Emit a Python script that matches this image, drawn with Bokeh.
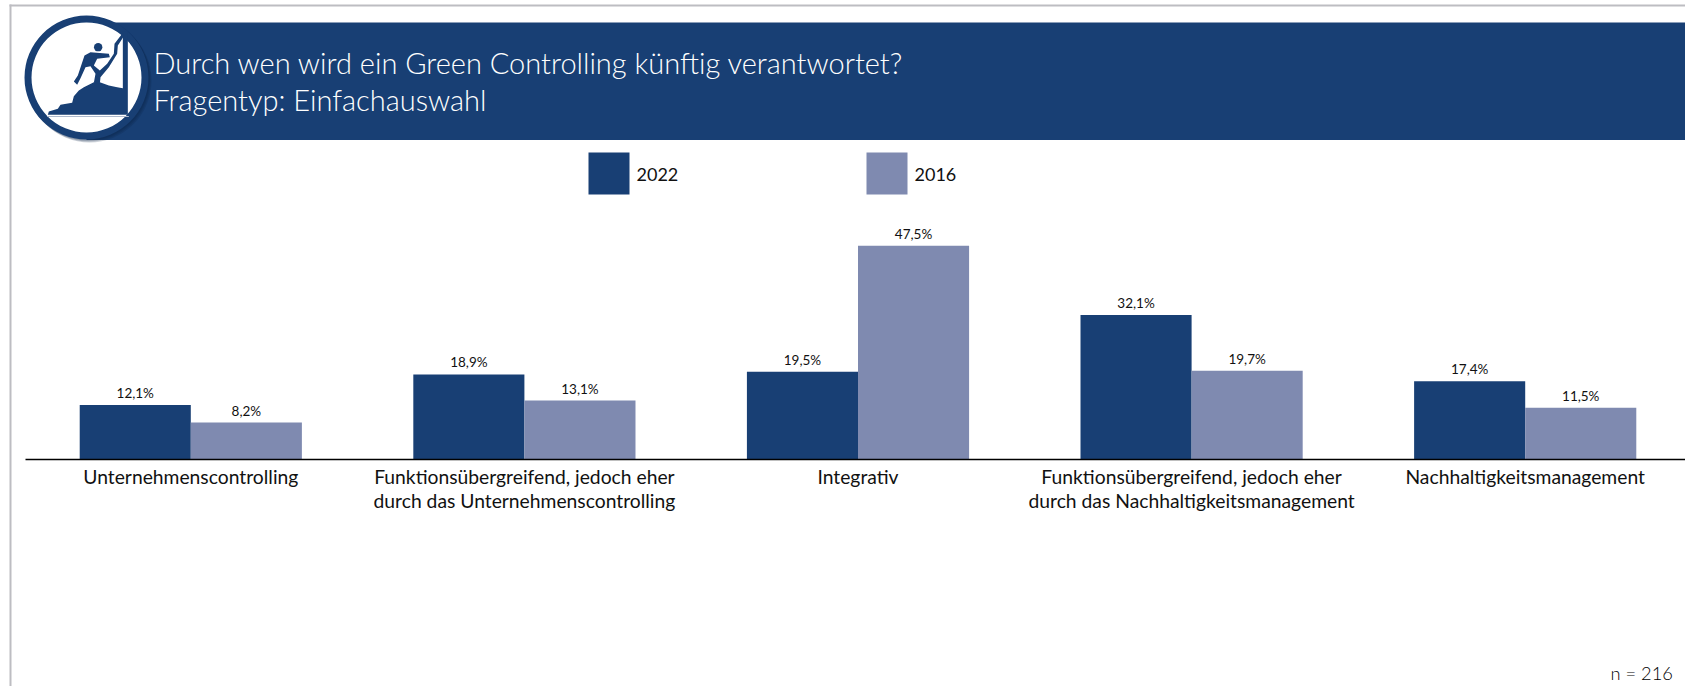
from bokeh.embed import file_html
from bokeh.resources import INLINE
from bokeh.plotting import figure
from bokeh.models import Range1d, FixedTicker, LinearAxis
from bokeh.core.properties import value

# Survey answers, in percent
first_lines = [
    "Unternehmenscontrolling",
    "Funktionsübergreifend, jedoch eher",
    "Integrativ",
    "Funktionsübergreifend, jedoch eher",
    "Nachhaltigkeitsmanagement",
]
second_lines = ["", "durch das Unternehmenscontrolling", "", "durch das Nachhaltigkeitsmanagement", ""]
values_2022 = [12.1, 18.9, 19.5, 32.1, 17.4]
values_2016 = [8.2, 13.1, 47.5, 19.7, 11.5]
series_names = ["2022", "2016"]
title_lines = ["Durch wen wird ein Green Controlling künftig verantwortet?", "Fragentyp: Einfachauswahl"]
sample_note = "n = 216"

NAVY = "#183F74"
SLATE = "#7F8AB0"
FRAME = "#BDBDC2"
INK = "#111111"
FONT = "Lato"
LIGHT_FONT = "Lato Light, Lato"
W, H, BASE = 1685, 686, 459
PX_PER_PCT = 4.5
SLOT = 333.6
BAR = 0.333
ORIGIN = 23.5
AXIS_START = 24.5


def to_label(v):
    return f"{v:.1f}".replace(".", ",") + "%"


x0 = -0.5 - ORIGIN / SLOT
p = figure(width=W, height=H, output_backend="svg", toolbar_location=None,
           x_range=Range1d(x0, x0 + W / SLOT),
           y_range=Range1d(-(H - BASE) / PX_PER_PCT, BASE / PX_PER_PCT),
           x_axis_type=None, y_axis_type=None,
           min_border_left=0, min_border_right=0, min_border_top=0, min_border_bottom=0)
p.outline_line_color = None
p.grid.visible = False
p.background_fill_color = "white"

# Pixel-based ranges for the page furniture (banner, badge, legend)
p.extra_x_ranges["px"] = Range1d(0, W)
p.extra_y_ranges["px"] = Range1d(H, 0)
px = dict(x_range_name="px", y_range_name="px")

# Frame lines of the slide
p.quad(left=[9], right=[W], top=[4], bottom=[6], fill_color=FRAME, line_color=None, **px)
p.quad(left=[9], right=[11], top=[4], bottom=[H], fill_color=FRAME, line_color=None, **px)

# Banner with the round badge on its left end
p.quad(left=[86], right=[W], top=[22], bottom=[139.5], fill_color=NAVY, line_color=None, **px)
p.circle(x=[89, 88, 87], y=[80, 79, 78], radius=[62, 62, 62], fill_color="#0B2344", fill_alpha=0.2, line_color=None, **px)
p.circle(x=[86], y=[77], radius=[62], fill_color=NAVY, line_color=None, **px)
p.circle(x=[86], y=[77], radius=[55], fill_color="white", line_color=None, **px)

# Climber icon, outlined in a 300-unit box that sits at (40, 25) and is scaled by a third
def icon_x(points):
    return [40 + v / 3 for v in points]


def icon_y(points):
    return [25 + v / 3 for v in points]


rock_x = [22, 25, 52, 60, 95, 100, 115, 130, 160, 178, 205, 230, 247, 247, 262, 262]
rock_y = [268, 258, 250, 238, 232, 212, 195, 185, 170, 170, 180, 185, 188, 18, 18, 268]
p.patch(icon_x(rock_x), icon_y(rock_y), fill_color=NAVY, line_color=None, **px)
climber_x = [132, 150, 205, 208, 170, 160, 178, 200, 220, 222, 245, 250, 232, 230, 205, 180, 178, 160, 165, 150, 135, 120, 110, 100, 112, 122]
climber_y = [90, 80, 85, 95, 100, 120, 135, 115, 85, 55, 25, 32, 60, 85, 125, 155, 175, 172, 145, 122, 125, 158, 178, 168, 150, 120]
p.patch(icon_x(climber_x), icon_y(climber_y), fill_color=NAVY, line_color=None, **px)
p.circle(x=icon_x([173]), y=icon_y([65]), radius=[4.2], fill_color=NAVY, line_color=None, **px)
p.line(icon_x([20, 265]), icon_y([273, 273]), line_color="#AEB9CC", line_width=1, **px)

for text, y in zip(title_lines, [62, 98.5]):
    p.text(x=[153], y=[y], text=[text], text_font=value(LIGHT_FONT), text_font_size="29px",
           text_color="white", text_baseline="middle", **px)

# Legend
for name, left, colour in zip(series_names, [588, 866], [NAVY, SLATE]):
    p.quad(left=[left], right=[left + 41], top=[152], bottom=[194], fill_color=colour, line_color=None, **px)
    p.text(x=[left + 48], y=[174], text=[name], text_font=value(FONT), text_font_size="18px",
           text_color=INK, text_baseline="middle", **px)

# Bars and their value labels
xs = list(range(len(first_lines)))
for offset, values, colour in [(-BAR / 2, values_2022, NAVY), (BAR / 2, values_2016, SLATE)]:
    centres = [i + offset for i in xs]
    p.vbar(x=centres, top=values, width=BAR, bottom=0, fill_color=colour, line_color=None)
    p.text(x=centres, y=values, text=[to_label(v) for v in values], y_offset=-4,
           text_align="center", text_baseline="bottom", text_font=value(FONT),
           text_font_size="13.5px", text_color=INK)

# Category axis on the zero line; the wrapped labels take a second, line-less axis
axis = LinearAxis(ticker=FixedTicker(ticks=xs), fixed_location=0,
                  major_label_overrides=dict(enumerate(first_lines)))
axis.axis_line_color = "black"
axis.axis_line_width = 1.5
axis.major_tick_line_color = None
axis.minor_tick_line_color = None
axis.major_label_text_font = FONT
axis.major_label_text_font_size = "19.3px"
axis.major_label_text_color = INK
axis.major_label_standoff = -1
axis.bounds = (x0 + AXIS_START / SLOT, x0 + W / SLOT)
p.add_layout(axis, "below")

axis2 = LinearAxis(ticker=FixedTicker(ticks=xs), fixed_location=0,
                   major_label_overrides=dict(enumerate(second_lines)))
axis2.axis_line_color = None
axis2.major_tick_line_color = None
axis2.minor_tick_line_color = None
axis2.major_label_text_font = FONT
axis2.major_label_text_font_size = "19.3px"
axis2.major_label_text_color = INK
axis2.major_label_standoff = 23
p.add_layout(axis2, "below")

# Sample size
p.text(x=[1610], y=[672], text=[sample_note], text_font=value(LIGHT_FONT), text_font_size="18.3px",
       text_color="#000000", text_baseline="middle", **px)

open("out.html", "w").write(file_html(p, INLINE))
